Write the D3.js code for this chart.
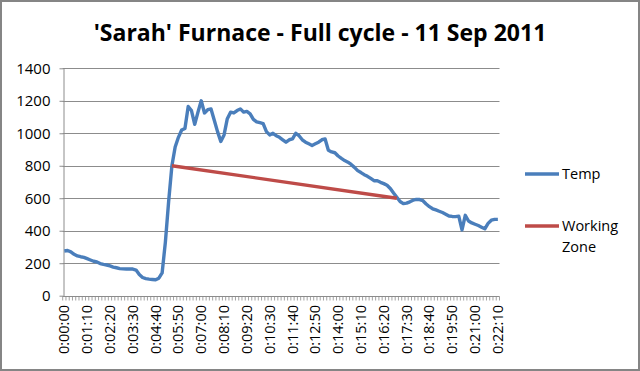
<!DOCTYPE html>
<html>
<head>
<meta charset="utf-8">
<script src="https://cdn.jsdelivr.net/npm/d3@7"></script>
<style>
    body { margin: 0; background: #fff; }
    text { font-family: "Open Sans", sans-serif; fill: #000; }
</style>
</head>
<body>
<div id="chart"></div>
<script>
// sampled every 10 seconds, from 0:00:00 to 0:22:10
const stepSec = 10;
const temp = [
    275, 278, 270, 255, 245, 240, 236, 228, 220, 212,
    208, 198, 193, 189, 183, 176, 172, 167, 165, 164,
    164, 164, 158, 130, 112, 105, 102, 100, 98, 108,
    140, 330, 580, 800, 915, 975, 1020, 1030, 1165, 1140,
    1055, 1130, 1200, 1125, 1145, 1150, 1080, 1010, 950, 990,
    1090, 1130, 1125, 1140, 1150, 1130, 1135, 1120, 1085, 1070,
    1065, 1060, 1010, 990, 1000, 985, 975, 960, 945, 960,
    965, 1000, 985, 960, 945, 935, 925, 935, 945, 960,
    965, 895, 885, 880, 860, 845, 832, 822, 808, 790,
    770, 758, 745, 735, 722, 708, 708, 698, 690, 680,
    660, 632, 606, 580, 567, 570, 578, 588, 593, 592,
    585, 565, 548, 535, 528, 520, 512, 502, 491, 488,
    487, 490, 405, 495, 460, 448, 440, 432, 422, 412,
    445, 465, 470, 470
];
// working zone: straight line between two samples
const zoneTimes = ["0:05:30", "0:17:00"];
const zoneValues = [800, 600];

const yTicks = [0, 200, 400, 600, 800, 1000, 1200, 1400];
const labelEvery = 7;
const seriesNames = ["Temp", "Working Zone"];
const colors = ["#4A7EBB", "#BE4B48"];
const title = "'Sarah' Furnace - Full cycle - 11 Sep 2011";

function fmtTime(s) {
    let m = Math.floor(s / 60), sec = s % 60;
    return "0:" + String(m).padStart(2, "0") + ":" + String(sec).padStart(2, "0");
}
const times = temp.map((d, i) => fmtTime(i * stepSec));

const W = 640, H = 371;
const margin = {top: 68.3, right: 140.5, bottom: 75.3, left: 62.7};

const svg = d3.select("#chart").append("svg")
    .attr("width", W)
    .attr("height", H);

// outer frame
svg.append("rect")
    .attr("x", 1).attr("y", 1)
    .attr("width", W - 2).attr("height", H - 2)
    .attr("fill", "#fff")
    .attr("stroke", "#858585")
    .attr("stroke-width", 2);

// scales
const x = d3.scaleBand()
    .domain(times)
    .range([margin.left, W - margin.right]);
const y = d3.scaleLinear()
    .domain([0, 1400])
    .range([H - margin.bottom, margin.top]);
const xc = t => x(t) + x.bandwidth() / 2;

// gridlines
svg.append("g")
    .selectAll("line")
    .data(yTicks.slice(1))
    .enter()
    .append("line")
    .attr("x1", margin.left).attr("x2", W - margin.right)
    .attr("y1", d => Math.round(y(d)) + 0.5)
    .attr("y2", d => Math.round(y(d)) + 0.5)
    .attr("stroke", "#8c8c8c");

// y axis
const yAxis = svg.append("g")
    .attr("transform", "translate(" + (Math.round(margin.left) + 0.5) + ",0)")
    .call(d3.axisLeft(y).tickValues(yTicks).tickFormat(d3.format("d"))
        .tickSize(4).tickSizeOuter(0).tickPadding(9));
yAxis.selectAll("text").style("font-size", "15px").attr("font-family", null);
yAxis.select(".domain").attr("stroke", "#8c8c8c");
yAxis.selectAll(".tick line").attr("stroke", "#8c8c8c");

// x axis, a tick at every category edge, a label every 7th
const xAxisY = Math.round(y(0)) + 0.5;
svg.append("line")
    .attr("x1", margin.left).attr("x2", W - margin.right)
    .attr("y1", xAxisY).attr("y2", xAxisY)
    .attr("stroke", "#8c8c8c");
svg.append("g")
    .selectAll("line")
    .data(times.concat(["end"]))
    .enter()
    .append("line")
    .attr("x1", (d, i) => margin.left + i * x.bandwidth())
    .attr("x2", (d, i) => margin.left + i * x.bandwidth())
    .attr("y1", xAxisY).attr("y2", xAxisY + 4)
    .attr("stroke", "#8c8c8c")
    .attr("stroke-width", 0.8);

svg.append("g")
    .selectAll("text")
    .data(times.filter((d, i) => i % labelEvery === 0))
    .enter()
    .append("text")
    .attr("transform", d => "translate(" + xc(d) + "," + 305 + ") rotate(-90)")
    .attr("text-anchor", "end")
    .attr("dy", "0.35em")
    .style("font-size", "14.5px")
    .text(d => d);

// lines
const line = d3.line()
    .x(d => xc(d.t))
    .y(d => y(d.v));

svg.append("path")
    .datum(temp.map((v, i) => ({t: times[i], v: v})))
    .attr("d", line)
    .attr("fill", "none")
    .attr("stroke", colors[0])
    .attr("stroke-width", 3.4)
    .attr("stroke-linejoin", "round");

svg.append("path")
    .datum(zoneTimes.map((t, i) => ({t: t, v: zoneValues[i]})))
    .attr("d", line)
    .attr("fill", "none")
    .attr("stroke", colors[1])
    .attr("stroke-width", 3.4);

// title, fitted to the width it has in the original
const titleText = svg.append("text")
    .attr("x", 320)
    .attr("y", 41)
    .attr("text-anchor", "middle")
    .style("font-weight", "bold")
    .style("font-size", "24px")
    .text(title);
let tw = titleText.node().getComputedTextLength();
titleText.style("font-size", (24 * 453 / tw) + "px");

// legend
const legend = svg.append("g");
const legendY = [174, 226];
legend.selectAll("line")
    .data(seriesNames)
    .enter()
    .append("line")
    .attr("x1", 525).attr("x2", 559)
    .attr("y1", (d, i) => legendY[i]).attr("y2", (d, i) => legendY[i])
    .attr("stroke", (d, i) => colors[i])
    .attr("stroke-width", 3.4);
legend.selectAll("text")
    .data(seriesNames)
    .enter()
    .append("text")
    .attr("x", 562)
    .attr("y", (d, i) => legendY[i])
    .style("font-size", "14.5px")
    .each(function (d) {
        let words = d.split(" ");
        d3.select(this).selectAll("tspan")
            .data(words)
            .enter()
            .append("tspan")
            .attr("x", 562)
            .attr("dy", (w, j) => j === 0 ? "0.35em" : "1.45em")
            .text(w => w);
    });
</script>
</body>
</html>
